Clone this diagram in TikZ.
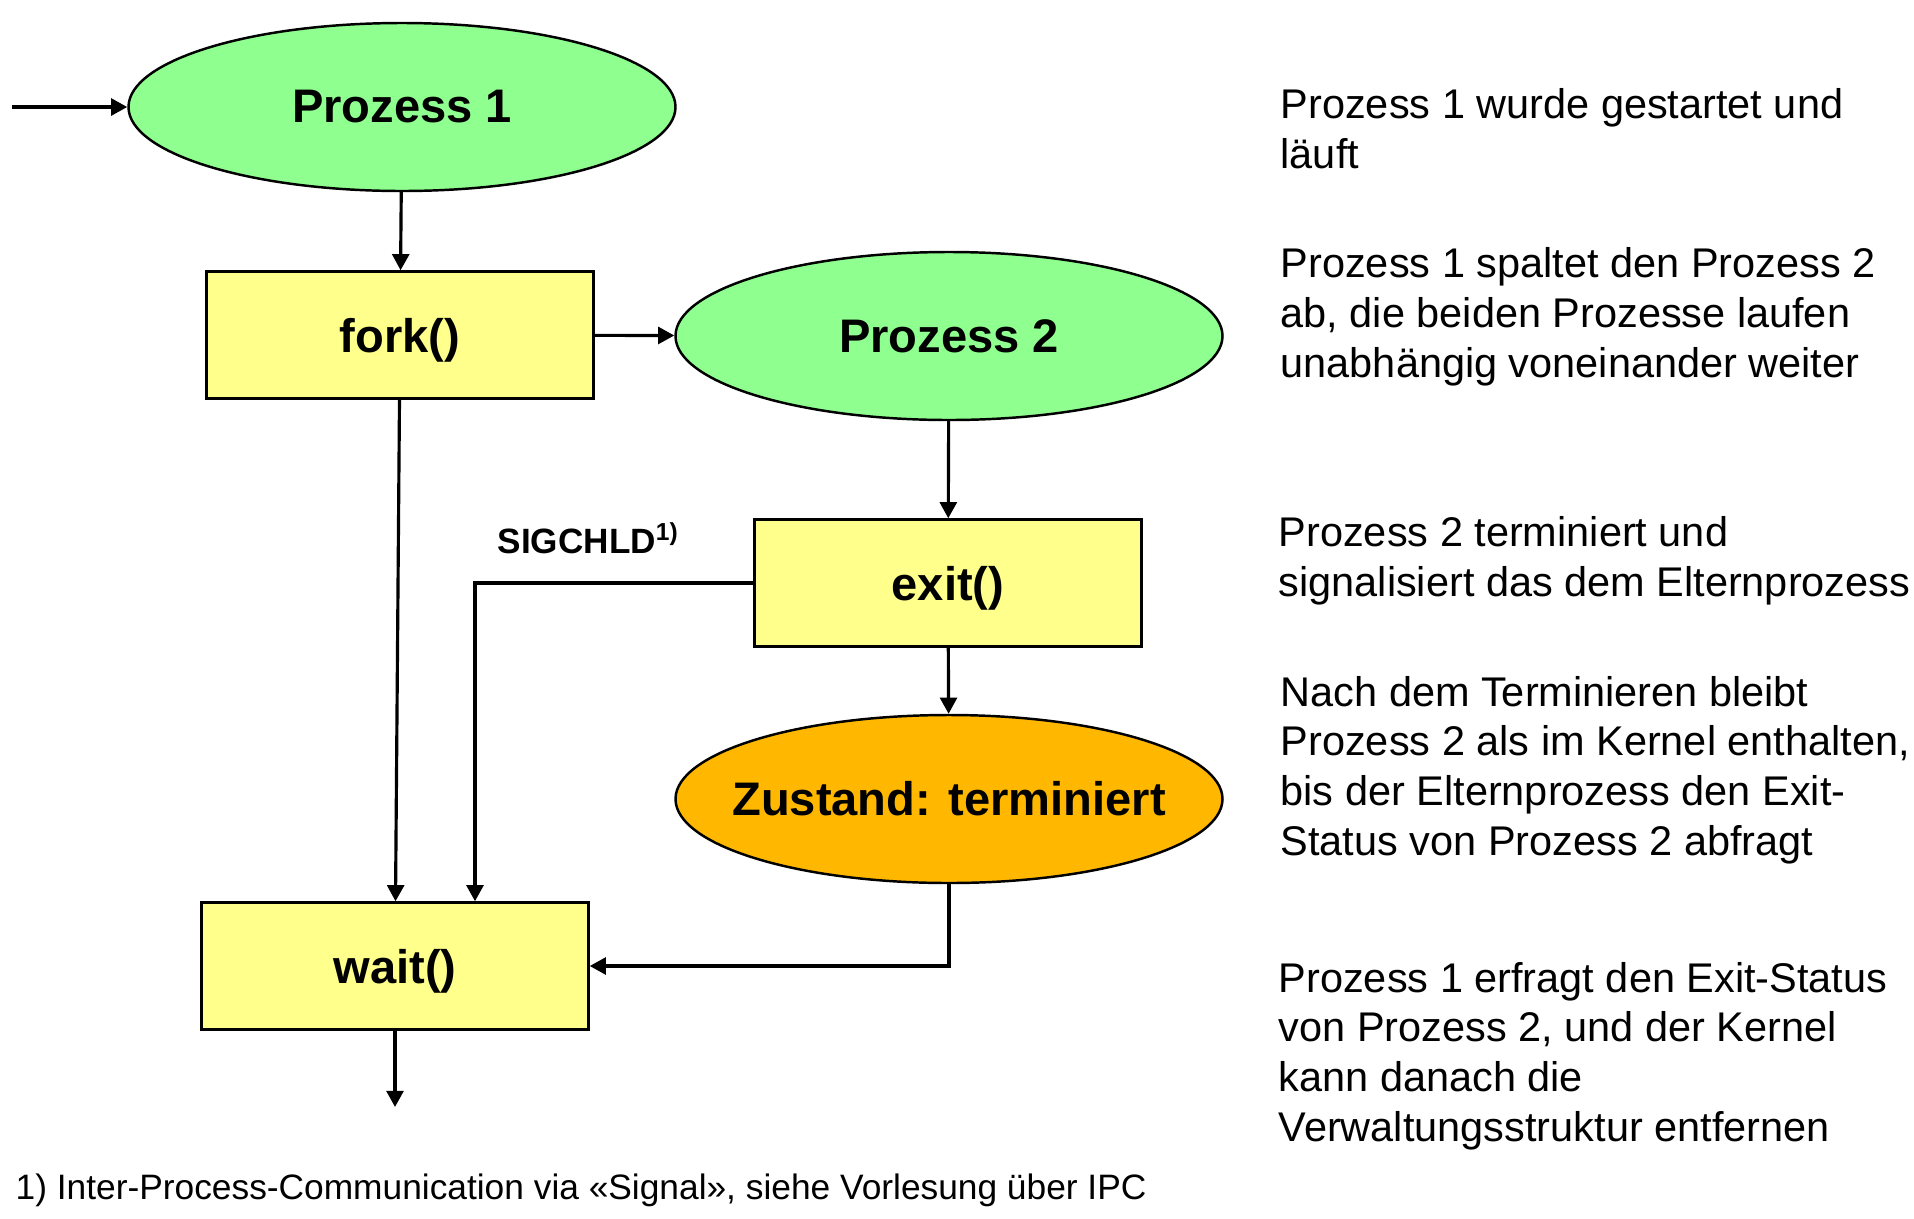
\documentclass[tikz,border=0pt]{standalone}
\usepackage{fontspec}
\setmainfont{Liberation Sans}
\usetikzlibrary{shapes.geometric,arrows.meta}

\definecolor{procgreen}{RGB}{143,255,143}
\definecolor{callyellow}{RGB}{255,255,140}
\definecolor{zombieorange}{RGB}{255,183,0}

\begin{document}
\begin{tikzpicture}
	[
	proc/.style={ellipse,draw,line width=0.7pt,fill=procgreen,inner sep=0pt,
		minimum width=5.47cm,minimum height=1.68cm,font=\fontsize{13.4}{16}\selectfont\bfseries},
	call/.style={rectangle,draw,line width=0.7pt,fill=callyellow,inner sep=0pt,text depth=0pt,
		minimum width=3.87cm,minimum height=1.27cm,font=\fontsize{13.4}{16}\selectfont\bfseries},
	note/.style={align=left,anchor=base west,inner sep=0pt,font=\fontsize{11.8}{14.1}\selectfont},
	flow/.style={line width=0.9pt,-{Triangle[length=4.6pt,width=4.8pt]}},
	]
		\useasboundingbox (0,0) rectangle (19.14,-12.18);

		% parent process
		\coordinate (in) at 		( 0.12, -1.07 );
		\node[proc] (p1) at 		( 4.02, -1.07 ) {Prozess 1};
		\node[call] (fork) at 		( 4.00, -3.35 ) {fork()};
		\node[call] (wait) at 		( 3.95, -9.66 ) {wait()};
		\coordinate (out) at 		( 3.95,-11.07 );

		% child process
		\node[proc] (p2) at 		( 9.49, -3.36 ) {Prozess 2};
		\node[call] (exit) at 		( 9.48, -5.83 ) {exit()};
		\node[proc,fill=zombieorange] (zombie) at 	( 9.49, -7.99 ) {\makebox[0pt]{Zustand: terminiert}};

		% signal to the parent
		\coordinate (sig) at 		( 4.75, -5.83 );
		\node[anchor=base west,inner sep=0pt,font=\fontsize{10}{12}\selectfont\bfseries] (siglabel) at ( 4.97, -5.53 ) {SIGCHLD\textsuperscript{1)}};

		\foreach \from/\to in {in/p1,p1/fork,fork/p2,fork/wait,p2/exit,exit/zombie,wait/out} \draw[flow] (\from) -- (\to);
		\draw[flow] (exit.west) -- (sig) -- (sig |- wait.north);
		\draw[flow] (zombie.south) |- (wait.east);

		% explanations (placed by the baseline of their last line)
		\node[note] (n1) at 		(12.80, -1.68 ) {Prozess 1 wurde gestartet und\\läuft};
		\node[note] (n2) at 		(12.80, -3.77 ) {Prozess 1 spaltet den Prozess 2\\ab, die beiden Prozesse laufen\\unabhängig voneinander weiter};
		\node[note] (n3) at 		(12.78, -5.96 ) {Prozess 2 terminiert und\\signalisiert das dem Elternprozess};
		\node[note] (n4) at 		(12.80, -8.55 ) {Nach dem Terminieren bleibt\\Prozess 2 als im Kernel enthalten,\\bis der Elternprozess den Exit-\\Status von Prozess 2 abfragt};
		\node[note] (n5) at 		(12.78,-11.41 ) {Prozess 1 erfragt den Exit-Status\\von Prozess 2, und der Kernel\\kann danach die\\Verwaltungsstruktur entfernen};

		% footnote
		\node[anchor=base west,inner sep=0pt,font=\fontsize{10.05}{12}\selectfont] (foot) at ( 0.15,-11.99 ) {1) Inter-Process-Communication via «Signal», siehe Vorlesung über IPC};

	\end{tikzpicture}
\end{document}
